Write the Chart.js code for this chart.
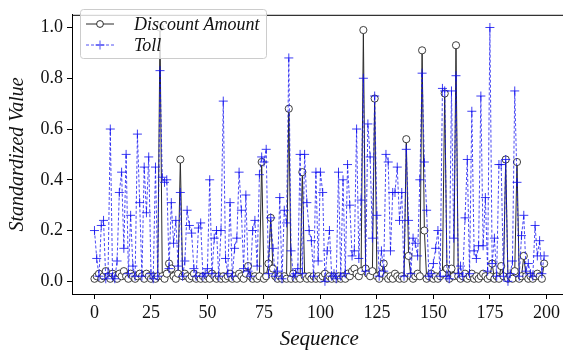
<!DOCTYPE html>
<html>
<head>
<meta charset="utf-8">
<script src="https://cdn.jsdelivr.net/npm/chart.js@4.4.0/dist/chart.umd.min.js"></script>
<style>
    body { margin: 0; overflow: hidden; background: #fff; }
    canvas { display: block; }
</style>
</head>
<body>
<canvas id="chart" width="572" height="352"></canvas>
<script>
// Values
const discountAmount = [
    0.01, 0.02, 0.03, 0.01, 0.02, 0.04, 0.02, 0.01, 0.03, 0.02,
    0.01, 0.03, 0.02, 0.04, 0.02, 0.01, 0.03, 0.02, 0.01, 0.02,
    0.03, 0.02, 0.01, 0.03, 0.02, 0.01, 0.02, 0.01, 0.02, 1.00,
    0.02, 0.01, 0.03, 0.07, 0.05, 0.02, 0.01, 0.03, 0.48, 0.02,
    0.03, 0.02, 0.01, 0.02, 0.03, 0.01, 0.02, 0.01, 0.02, 0.01,
    0.02, 0.01, 0.03, 0.02, 0.01, 0.02, 0.01, 0.02, 0.01, 0.02,
    0.03, 0.01, 0.02, 0.01, 0.03, 0.02, 0.01, 0.03, 0.06, 0.02,
    0.01, 0.02, 0.01, 0.02, 0.47, 0.01, 0.02, 0.07, 0.25, 0.05,
    0.02, 0.01, 0.02, 0.01, 0.02, 0.01, 0.68, 0.01, 0.03, 0.01,
    0.02, 0.01, 0.43, 0.02, 0.01, 0.02, 0.01, 0.02, 0.01, 0.02,
    0.01, 0.02, 0.03, 0.01, 0.02, 0.01, 0.02, 0.01, 0.02, 0.01,
    0.02, 0.01, 0.03, 0.02, 0.04, 0.05, 0.03, 0.02, 0.04, 0.99,
    0.05, 0.03, 0.02, 0.04, 0.72, 0.02, 0.01, 0.03, 0.07, 0.02,
    0.01, 0.02, 0.01, 0.03, 0.02, 0.01, 0.02, 0.01, 0.56, 0.10,
    0.02, 0.01, 0.02, 0.03, 0.02, 0.91, 0.20, 0.01, 0.02, 0.03,
    0.01, 0.02, 0.01, 0.02, 0.03, 0.74, 0.05, 0.01, 0.05, 0.02,
    0.93, 0.02, 0.01, 0.02, 0.03, 0.01, 0.02, 0.03, 0.01, 0.02,
    0.01, 0.02, 0.03, 0.02, 0.01, 0.02, 0.07, 0.01, 0.02, 0.01,
    0.06, 0.02, 0.48, 0.01, 0.02, 0.01, 0.04, 0.47, 0.01, 0.02,
    0.10, 0.02, 0.01, 0.02, 0.01, 0.02, 0.03, 0.02, 0.01, 0.07
];

const toll = [
    0.20, 0.09, 0.02, 0.22, 0.24, 0.01, 0.03, 0.60, 0.02, 0.01,
    0.08, 0.35, 0.43, 0.13, 0.50, 0.03, 0.26, 0.06, 0.02, 0.58,
    0.31, 0.02, 0.45, 0.27, 0.49, 0.03, 0.01, 0.45, 0.02, 0.83,
    0.41, 0.39, 0.40, 0.05, 0.31, 0.15, 0.24, 0.06, 0.35, 0.02,
    0.08, 0.28, 0.22, 0.19, 0.05, 0.02, 0.21, 0.23, 0.02, 0.03,
    0.05, 0.40, 0.03, 0.17, 0.20, 0.02, 0.20, 0.71, 0.09, 0.03,
    0.31, 0.02, 0.13, 0.17, 0.43, 0.28, 0.05, 0.34, 0.04, 0.02,
    0.20, 0.24, 0.06, 0.42, 0.49, 0.47, 0.52, 0.03, 0.25, 0.13,
    0.02, 0.04, 0.33, 0.01, 0.28, 0.23, 0.88, 0.12, 0.02, 0.03,
    0.05, 0.50, 0.03, 0.50, 0.31, 0.20, 0.16, 0.02, 0.43, 0.08,
    0.43, 0.35, 0.00, 0.12, 0.20, 0.02, 0.03, 0.01, 0.43, 0.02,
    0.40, 0.03, 0.46, 0.30, 0.10, 0.12, 0.60, 0.09, 0.32, 0.80,
    0.04, 0.62, 0.49, 0.17, 0.73, 0.26, 0.02, 0.12, 0.04, 0.50,
    0.47, 0.12, 0.35, 0.35, 0.45, 0.24, 0.35, 0.02, 0.52, 0.24,
    0.03, 0.17, 0.15, 0.10, 0.40, 0.82, 0.47, 0.28, 0.02, 0.03,
    0.07, 0.13, 0.20, 0.02, 0.76, 0.75, 0.02, 0.01, 0.75, 0.17,
    0.81, 0.03, 0.06, 0.02, 0.25, 0.48, 0.03, 0.67, 0.12, 0.09,
    0.14, 0.73, 0.14, 0.33, 0.04, 1.00, 0.07, 0.17, 0.02, 0.46,
    0.46, 0.02, 0.48, 0.00, 0.03, 0.08, 0.75, 0.39, 0.02, 0.18,
    0.26, 0.04, 0.07, 0.03, 0.02, 0.22, 0.10, 0.16, 0.03, 0.10
];

const sequence = discountAmount.map((_, i) => i);
const xTicks = [0, 25, 50, 75, 100, 125, 150, 175, 200];
const yTicks = [0.0, 0.2, 0.4, 0.6, 0.8, 1.0];
const seriesNames = ['Discount Amount', 'Toll'];

const SERIF = '"Liberation Serif", "DejaVu Serif", serif';
const BLUE = 'rgba(15, 15, 240, 0.9)';
const DARK = '#2a2a2a';

function toPoints(values) {
    return values.map((v, i) => ({ x: sequence[i], y: v }));
}

// Frame round the plot + matplotlib style legend
const framePlugin = {
    id: 'frame',
    afterDraw(chart) {
        const { ctx, chartArea } = chart;
        ctx.save();
        ctx.strokeStyle = '#000';
        ctx.lineWidth = 1;
        ctx.strokeRect(chartArea.left + 0.5, chartArea.top + 0.5,
            chartArea.right - chartArea.left, chartArea.bottom - chartArea.top);

        // legend box
        const bx = 80, by = 9, bw = 186, bh = 49;
        ctx.beginPath();
        ctx.roundRect(bx + 0.5, by + 0.5, bw, bh, 3);
        ctx.fillStyle = 'rgba(255,255,255,0.8)';
        ctx.fill();
        ctx.strokeStyle = '#cccccc';
        ctx.stroke();

        const rows = [by + 15, by + 36];
        // Discount sample
        ctx.strokeStyle = DARK;
        ctx.lineWidth = 1;
        ctx.setLineDash([]);
        ctx.beginPath();
        ctx.moveTo(86, rows[0]);
        ctx.lineTo(114, rows[0]);
        ctx.stroke();
        ctx.beginPath();
        ctx.arc(100, rows[0], 3.4, 0, Math.PI * 2);
        ctx.fillStyle = '#fff';
        ctx.fill();
        ctx.stroke();
        // Toll sample
        ctx.strokeStyle = BLUE;
        ctx.lineWidth = 0.8;
        ctx.setLineDash([3, 2]);
        ctx.beginPath();
        ctx.moveTo(86, rows[1]);
        ctx.lineTo(114, rows[1]);
        ctx.stroke();
        ctx.setLineDash([]);
        ctx.beginPath();
        ctx.moveTo(100, rows[1] - 4.5);
        ctx.lineTo(100, rows[1] + 4.5);
        ctx.moveTo(95.5, rows[1]);
        ctx.lineTo(104.5, rows[1]);
        ctx.stroke();

        ctx.fillStyle = '#111';
        ctx.font = 'italic 18px ' + SERIF;
        ctx.textBaseline = 'middle';
        ctx.textAlign = 'left';
        ctx.fillText(seriesNames[0], 134, rows[0] + 1);
        ctx.fillText(seriesNames[1], 134, rows[1] + 1);
        ctx.restore();
    }
};

const ctx = document.getElementById('chart').getContext('2d');
new Chart(ctx, {
    type: 'line',
    data: {
        datasets: [
            {
                label: seriesNames[0],
                data: toPoints(discountAmount),
                borderColor: DARK,
                borderWidth: 1,
                pointStyle: 'circle',
                pointRadius: 3.6,
                pointBackgroundColor: '#fff',
                pointBorderColor: DARK,
                pointBorderWidth: 0.9,
                tension: 0,
                order: 1
            },
            {
                label: seriesNames[1],
                data: toPoints(toll),
                borderColor: BLUE,
                borderWidth: 0.85,
                borderDash: [3, 2],
                pointStyle: 'cross',
                pointRadius: 4.5,
                pointBorderColor: BLUE,
                pointBorderWidth: 0.9,
                tension: 0,
                order: 0
            }
        ]
    },
    options: {
        responsive: false,
        animation: false,
        events: [],
        layout: { padding: { top: 3, right: 5, left: 0, bottom: 0 } },
        plugins: {
            legend: { display: false },
            tooltip: { enabled: false }
        },
        scales: {
            x: {
                type: 'linear',
                min: -9.95,
                max: 208.95,
                afterBuildTicks(scale) {
                    scale.ticks = xTicks.map(v => ({ value: v }));
                },
                afterFit(scale) { scale.height = 58; },
                grid: {
                    drawOnChartArea: false,
                    drawTicks: true,
                    tickLength: 5,
                    color: '#000'
                },
                border: { display: true, color: '#000' },
                ticks: {
                    color: '#111',
                    padding: 3,
                    maxRotation: 0,
                    font: { family: SERIF, size: 18 }
                },
                title: {
                    display: true,
                    text: 'Sequence',
                    color: '#111',
                    padding: { top: 0, bottom: 0 },
                    font: { family: SERIF, size: 21, style: 'italic' }
                }
            },
            y: {
                min: -0.05,
                max: 1.05,
                afterBuildTicks(scale) {
                    scale.ticks = yTicks.map(v => ({ value: v }));
                },
                afterFit(scale) { scale.width = 72; },
                grid: {
                    drawOnChartArea: false,
                    drawTicks: true,
                    tickLength: 5,
                    color: '#000'
                },
                border: { display: true, color: '#000' },
                ticks: {
                    color: '#111',
                    padding: 4,
                    font: { family: SERIF, size: 18 },
                    callback: v => v.toFixed(1)
                },
                title: {
                    display: true,
                    text: 'Standardized Value',
                    color: '#111',
                    padding: { top: 6, bottom: 0 },
                    font: { family: SERIF, size: 20, style: 'italic' }
                }
            }
        }
    },
    plugins: [framePlugin]
});
</script>
</body>
</html>
